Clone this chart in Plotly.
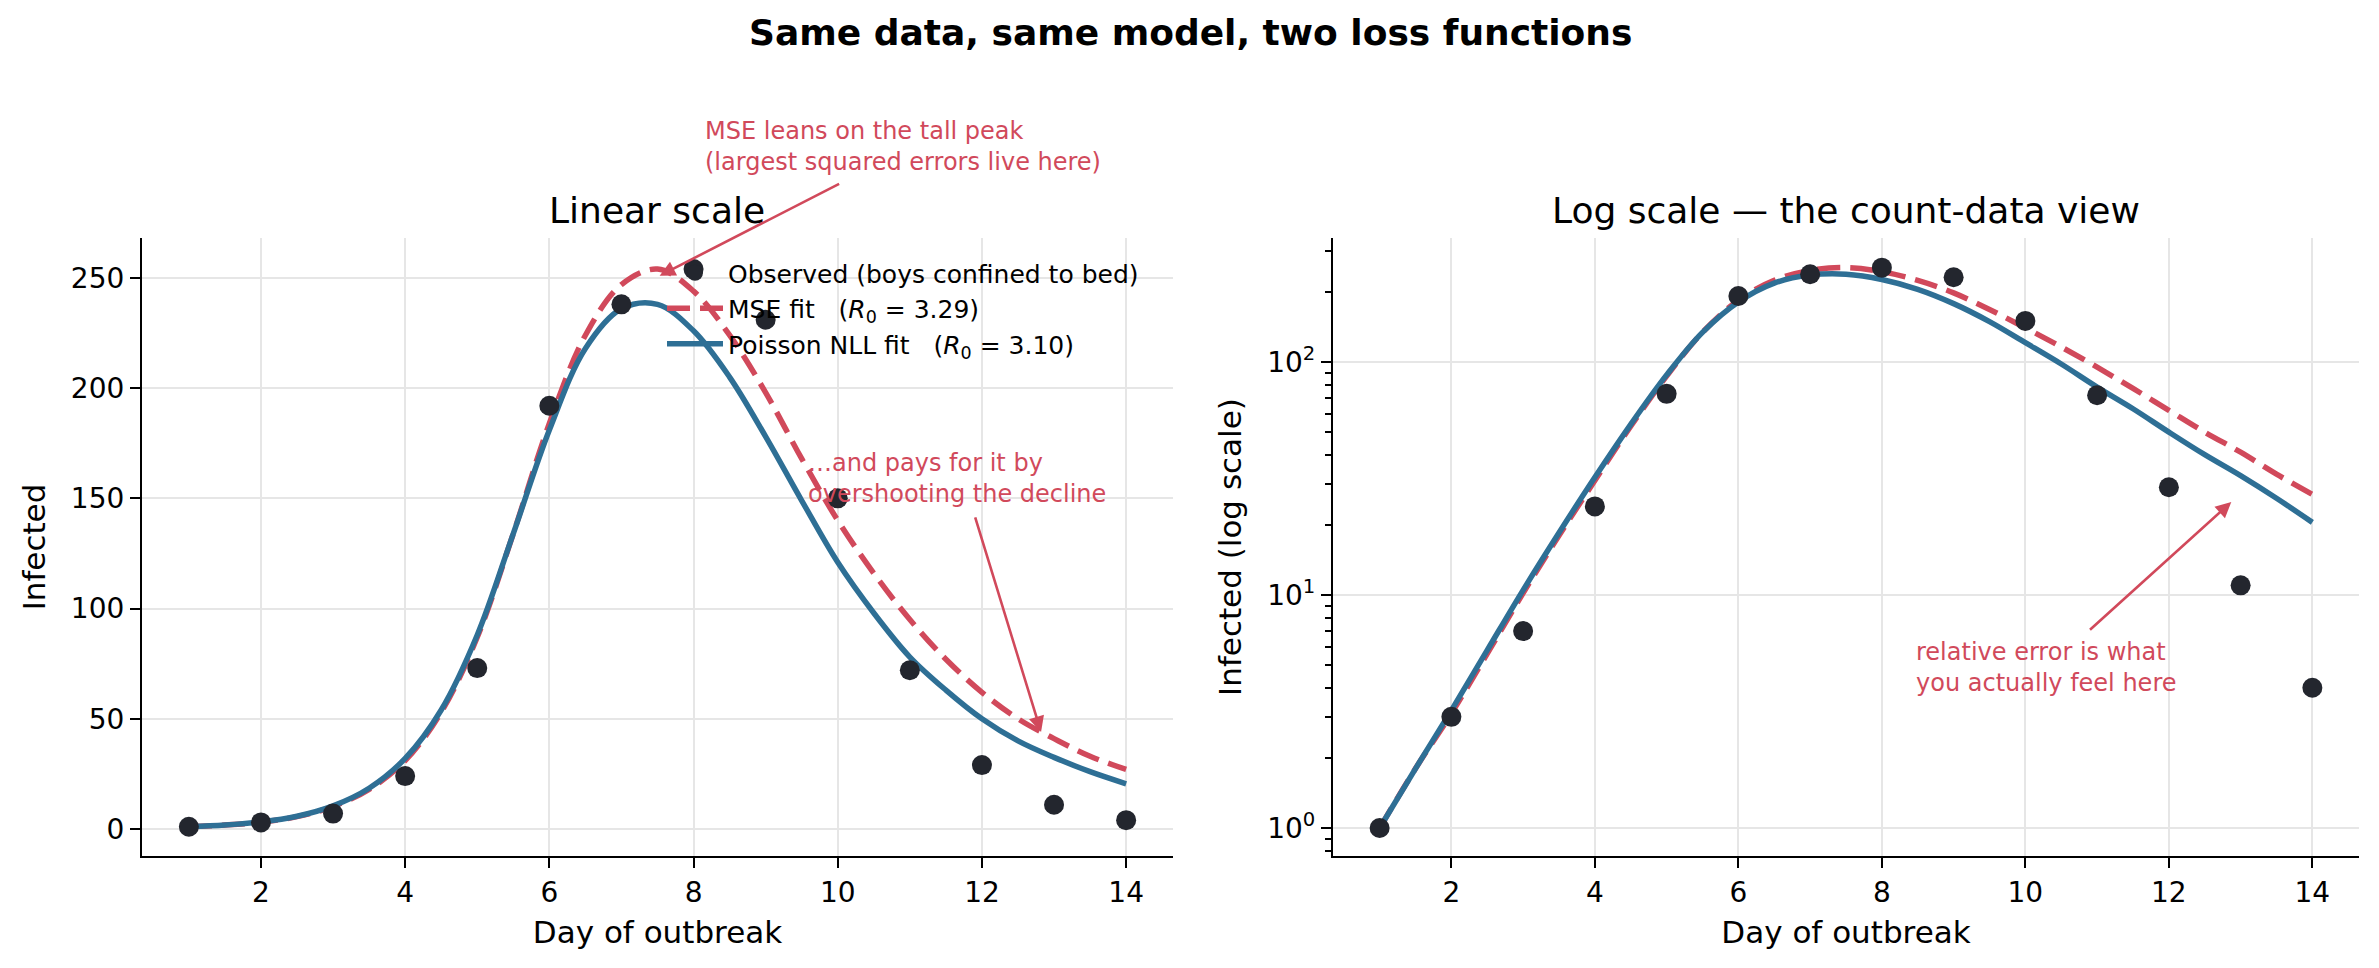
import plotly.graph_objects as go

# observed cases (boys confined to bed)
days = [1, 2, 3, 4, 5, 6, 7, 8, 9, 10, 11, 12, 13, 14]
observed = [1, 3, 7, 24, 73, 192, 238, 254, 231, 150, 72, 29, 11, 4]

# fitted curves, every half day
fit_days = [1.0, 1.5, 2.0, 2.5, 3.0, 3.5, 4.0, 4.5, 5.0, 5.5, 6.0, 6.5, 7.0, 7.5,
            8.0, 8.5, 9.0, 9.5, 10.0, 10.5, 11.0, 11.5, 12.0, 12.5, 13.0, 13.5, 14.0]
mse_fit = [1.0, 1.8, 3.1, 5.6, 10.2, 18, 31, 53, 87, 134, 184, 224, 247, 254,
           244, 224, 198, 168, 140, 116, 95, 77, 62, 50, 41, 33, 27]
poisson_fit = [1.0, 1.8, 3.2, 5.8, 10.5, 18.5, 32, 54, 88, 134, 181, 218, 236, 238,
               226, 205, 178, 149, 121, 98, 78, 63, 50, 40, 32.5, 26, 20.5]

mse_r0 = 3.29
poisson_r0 = 3.10

RED = "#d1495b"
BLUE = "#2e6f95"
DOT = "#23262e"
FONT = "DejaVu Sans"
W, H = 2379, 968

nb = "\u00a0"
mse_name = "MSE fit" + nb * 3 + "(<i>R</i><sub>0</sub> = %.2f)" % mse_r0
poisson_name = "Poisson NLL fit" + nb * 3 + "(<i>R</i><sub>0</sub> = %.2f)" % poisson_r0

fig = go.Figure()

for xa, ya, show in [("x", "y", True), ("x2", "y2", False)]:
    fig.add_trace(go.Scatter(x=fit_days, y=mse_fit, mode="lines", line_shape="spline",
                             line=dict(color=RED, width=5.5, dash="23px,10px"),
                             name=mse_name, legendrank=2, legendgroup="mse",
                             showlegend=show, xaxis=xa, yaxis=ya))
    fig.add_trace(go.Scatter(x=fit_days, y=poisson_fit, mode="lines", line_shape="spline",
                             line=dict(color=BLUE, width=5.5),
                             name=poisson_name, legendrank=3, legendgroup="pois",
                             showlegend=show, xaxis=xa, yaxis=ya))
    fig.add_trace(go.Scatter(x=days, y=observed, mode="markers",
                             marker=dict(color=DOT, size=20),
                             name="Observed (boys confined to bed)", legendrank=1,
                             legendgroup="obs", showlegend=show, xaxis=xa, yaxis=ya))

axis_common = dict(showline=True, linecolor="black", linewidth=2.2, mirror=False,
                   ticks="outside", ticklen=10, tickwidth=2.2, tickcolor="black",
                   showgrid=True, gridcolor="#e6e6e6", gridwidth=2, zeroline=False,
                   tickfont=dict(family=FONT, size=28, color="black"))
title_font = dict(family=FONT, size=31, color="black")

x_dom1 = [142 / W, 1173 / W]
x_dom2 = [1333 / W, 2359 / W]
y_dom = [1 - 856 / H, 1 - 238 / H]

fig.update_layout(
    width=W, height=H,
    margin=dict(l=0, r=0, t=0, b=0),
    paper_bgcolor="white", plot_bgcolor="white",
    font=dict(family=FONT, color="black"),
    xaxis=dict(domain=x_dom1, range=[0.35, 14.65], anchor="y",
               tickvals=[2, 4, 6, 8, 10, 12, 14],
               title=dict(text="Day of outbreak", font=title_font, standoff=14),
               **axis_common),
    yaxis=dict(domain=y_dom, range=[-12.25, 268.1], anchor="x",
               tickvals=[0, 50, 100, 150, 200, 250],
               title=dict(text="Infected", font=title_font, standoff=16),
               **axis_common),
    xaxis2=dict(domain=x_dom2, range=[0.35, 14.65], anchor="y2",
                tickvals=[2, 4, 6, 8, 10, 12, 14],
                title=dict(text="Day of outbreak", font=title_font, standoff=14),
                **axis_common),
    yaxis2=dict(domain=y_dom, type="log", range=[-0.12, 2.532], anchor="x2",
                tickvals=[1, 10, 100],
                ticktext=["10<sup>0</sup>", "10<sup>1</sup>", "10<sup>2</sup>"],
                minor=dict(tickmode="array",
                           tickvals=[0.8, 0.9, 2, 3, 4, 5, 6, 7, 8, 9,
                                     20, 30, 40, 50, 60, 70, 80, 90, 200, 300],
                           ticks="outside", ticklen=5.5, tickwidth=1.6,
                           tickcolor="black", showgrid=False),
                title=dict(text="Infected (log scale)", font=title_font, standoff=16),
                **axis_common),
    legend=dict(x=662 / W, y=1 - 250 / H, xanchor="left", yanchor="top",
                bgcolor="rgba(0,0,0,0)", borderwidth=0, tracegroupgap=0,
                itemwidth=56,
                font=dict(family=FONT, size=25, color="black")),
    showlegend=True,
)

title_style = dict(xref="paper", yref="paper", showarrow=False,
                   xanchor="center", yanchor="middle",
                   font=dict(family=FONT, size=36, color="black"))
note_font = dict(family=FONT, size=24, color=RED)

annots = [
    dict(text="<b>Same data, same model, two loss functions</b>",
         x=1190 / W, y=1 - 33 / H, **title_style),
    dict(text="Linear scale", x=657 / W, y=1 - 210 / H, **title_style),
    dict(text="Log scale \u2014 the count-data view", x=1846 / W, y=1 - 211 / H,
         **title_style),
    # annotation texts
    dict(text="MSE leans on the tall peak<br>(largest squared errors live here)",
         x=703 / W, y=1 - 146 / H, xref="paper", yref="paper",
         xanchor="left", yanchor="middle", align="left", showarrow=False,
         font=note_font),
    dict(text="\u2026and pays for it by<br>overshooting the decline",
         x=9.56, y=159, xref="x", yref="y", xanchor="left", yanchor="middle",
         align="left", showarrow=False, font=note_font),
    dict(text="relative error is what<br>you actually feel here",
         x=8.45, y=0.689, xref="x2", yref="y2", xanchor="left", yanchor="middle",
         align="left", showarrow=False, font=note_font),
    # arrows
    dict(text="", x=7.53, y=251, ax=10.04, ay=293, xref="x", yref="y", axref="x", ayref="y",
         showarrow=True, arrowhead=2, arrowsize=1.2, arrowwidth=2.6, arrowcolor=RED),
    dict(text="", x=12.82, y=44, ax=11.9, ay=142, xref="x", yref="y", axref="x", ayref="y",
         showarrow=True, arrowhead=2, arrowsize=1.2, arrowwidth=2.6, arrowcolor=RED),
    dict(text="", x=12.87, y=1.399, ax=10.88, ay=0.845, xref="x2", yref="y2",
         axref="x2", ayref="y2",
         showarrow=True, arrowhead=2, arrowsize=1.2, arrowwidth=2.6, arrowcolor=RED),
]
fig.update_layout(annotations=annots)

fig.write_html("out.html", config={"displayModeBar": False},
               post_script="document.body.style.margin='0';")
